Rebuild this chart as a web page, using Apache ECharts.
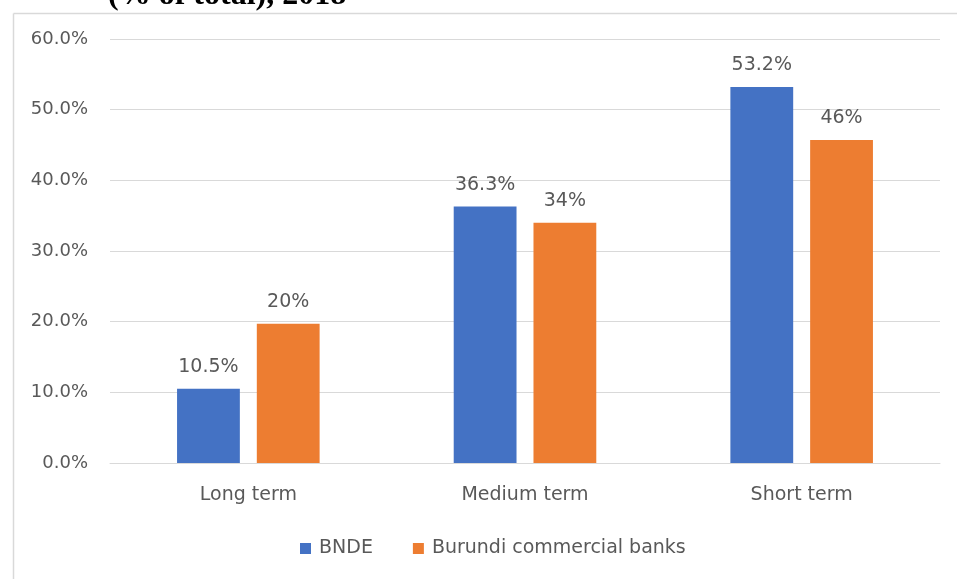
<!DOCTYPE html>
<html><head><meta charset="utf-8">
<script src="https://cdn.jsdelivr.net/npm/echarts@6/dist/echarts.min.js"></script>
<style>html,body{margin:0;padding:0;background:#fff}#c{width:957px;height:579px}</style>
</head><body><div id="c"></div>
<script>
const categories = ['Long term', 'Medium term', 'Short term'];
const bnde = [10.5, 36.3, 53.2];
const banks = [19.7, 34.0, 45.7];
const yTicks = [0, 10, 20, 30, 40, 50, 60];
const title = '(% of total), 2018';

const chart = echarts.init(document.getElementById('c'));
const txt = '#595959';
const ff = "'DejaVu Sans', sans-serif";
const fs = 19;
chart.setOption({
  animation: false,
  backgroundColor: '#fff',
  graphic: [
    { type: 'text', left: 108, top: -20, z: 10,
      style: { text: title, font: "bold 32px 'Liberation Serif', serif", fill: '#000' } },
    { type: 'line', shape: { x1: 13.5, y1: 13.5, x2: 957, y2: 13.5 },
      style: { stroke: '#d9d9d9', lineWidth: 1.5 }, z: 0 },
    { type: 'line', shape: { x1: 13.5, y1: 13.5, x2: 13.5, y2: 579 },
      style: { stroke: '#d9d9d9', lineWidth: 1.5 }, z: 0 }
  ],
  grid: { left: 110, right: 17, top: 39, bottom: 116 },
  legend: {
    bottom: 16, left: 295, itemWidth: 11, itemHeight: 11, itemGap: 40,
    icon: 'rect',
    textStyle: { color: txt, fontSize: fs, fontFamily: ff, padding: [0, 0, 0, 3] }
  },
  xAxis: {
    type: 'category', data: categories,
    axisLine: { lineStyle: { color: '#d9d9d9', width: 1 } },
    axisTick: { show: false },
    axisLabel: { color: txt, fontSize: fs, fontFamily: ff, margin: 23 }
  },
  yAxis: {
    type: 'value', min: yTicks[0], max: yTicks[yTicks.length - 1], interval: 10,
    axisLine: { show: false }, axisTick: { show: false },
    splitLine: { lineStyle: { color: '#d9d9d9', width: 1 } },
    axisLabel: { color: txt, fontSize: 18, fontFamily: ff, margin: 22,
      formatter: v => v.toFixed(1) + '%' }
  },
  series: [
    { name: 'BNDE', type: 'bar', data: bnde, barWidth: '22.7%', barGap: '27%',
      itemStyle: { color: '#4472C4' },
      label: { show: true, position: 'top', distance: 12, color: txt, fontSize: fs, fontFamily: ff,
        formatter: p => p.value.toFixed(1) + '%' } },
    { name: 'Burundi commercial banks', type: 'bar', data: banks, barWidth: '22.7%',
      itemStyle: { color: '#ED7D31' },
      label: { show: true, position: 'top', distance: 12, color: txt, fontSize: fs, fontFamily: ff,
        formatter: p => Math.round(p.value) + '%' } }
  ]
});
</script></body></html>
